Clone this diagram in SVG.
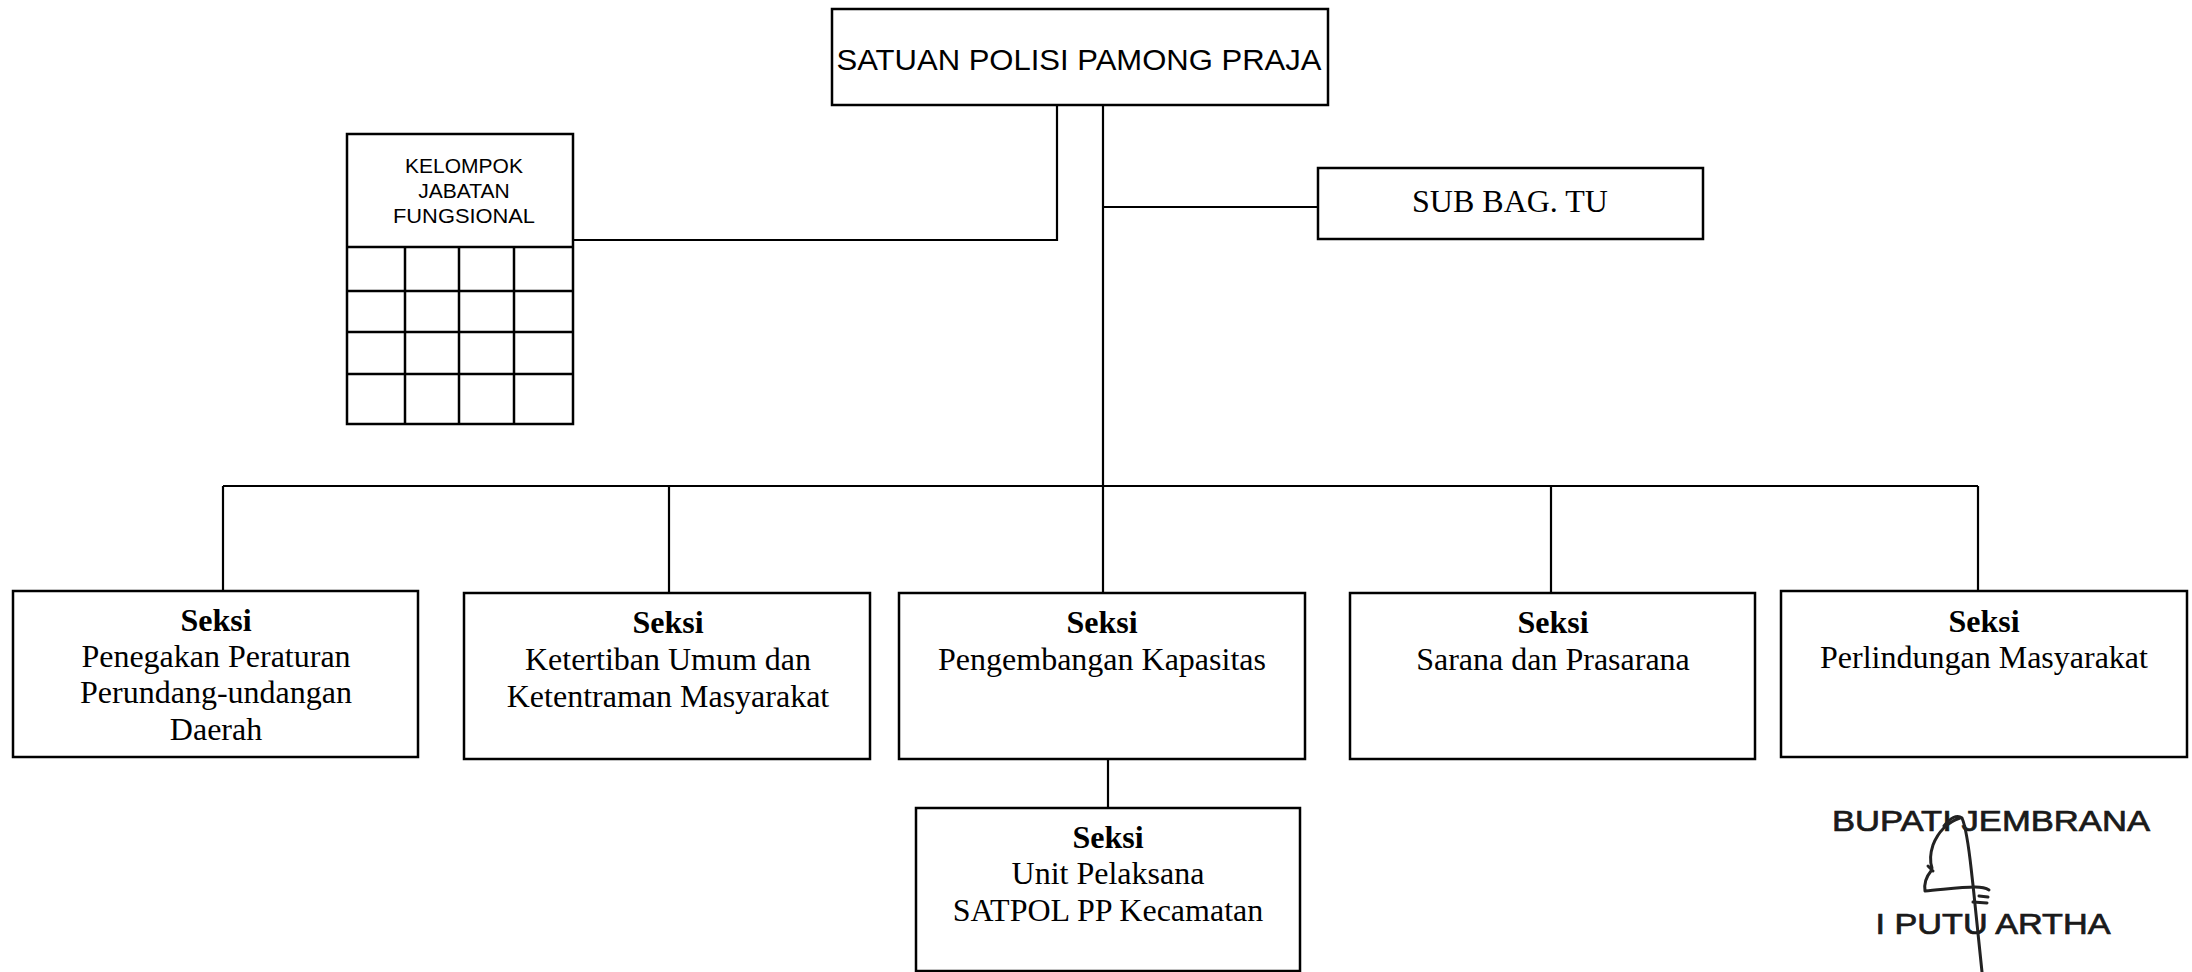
<svg xmlns="http://www.w3.org/2000/svg" width="2192" height="972" viewBox="0 0 2192 972">
<style>
  .box { fill: #ffffff; stroke: #000000; stroke-width: 2.5; }
  .grid { stroke: #000000; stroke-width: 2.5; fill: none; }
  .conn { stroke: #000000; stroke-width: 2.2; fill: none; }
  .sans { font-family: "Liberation Sans", Arial, sans-serif; fill: #000000; text-anchor: middle; }
  .serif { font-family: "Liberation Serif", "Times New Roman", serif; fill: #000000; text-anchor: middle; font-size: 32px; }
  .bold { font-weight: bold; }
  .sig { font-family: "Liberation Sans", Arial, sans-serif; fill: #1a1a1a; stroke: #1a1a1a; stroke-width: 0.7; text-anchor: middle; font-size: 29px; }
  .pen { fill: none; stroke: #222222; stroke-width: 3; stroke-linecap: round; stroke-linejoin: round; }
</style>
<rect width="2192" height="972" fill="#ffffff"/>

<g id="connectors">
  <polyline class="conn" points="1057,105 1057,240 573,240"/>
  <line class="conn" x1="1103" y1="105" x2="1103" y2="593"/>
  <line class="conn" x1="1103" y1="207" x2="1318" y2="207"/>
  <line class="conn" x1="223" y1="486" x2="1978" y2="486"/>
  <line class="conn" x1="223" y1="486" x2="223" y2="591"/>
  <line class="conn" x1="669" y1="486" x2="669" y2="593"/>
  <line class="conn" x1="1551" y1="486" x2="1551" y2="593"/>
  <line class="conn" x1="1978" y1="486" x2="1978" y2="591"/>
  <line class="conn" x1="1108" y1="759" x2="1108" y2="808"/>
</g>

<g id="node-satpol">
  <rect class="box" x="832" y="9" width="496" height="96"/>
  <text class="sans" x="1079" y="70" font-size="30" textLength="485" lengthAdjust="spacingAndGlyphs">SATUAN POLISI PAMONG PRAJA</text>
</g>

<g id="node-kelompok">
  <rect class="box" x="347" y="134" width="226" height="290"/>
  <line class="grid" x1="347" y1="247" x2="573" y2="247"/>
  <line class="grid" x1="347" y1="291" x2="573" y2="291"/>
  <line class="grid" x1="347" y1="332" x2="573" y2="332"/>
  <line class="grid" x1="347" y1="374" x2="573" y2="374"/>
  <line class="grid" x1="405" y1="247" x2="405" y2="424"/>
  <line class="grid" x1="459" y1="247" x2="459" y2="424"/>
  <line class="grid" x1="514" y1="247" x2="514" y2="424"/>
  <text class="sans" x="464" y="173" font-size="21">KELOMPOK</text>
  <text class="sans" x="464" y="198" font-size="21">JABATAN</text>
  <text class="sans" x="464" y="223" font-size="21" textLength="142" lengthAdjust="spacingAndGlyphs">FUNGSIONAL</text>
</g>

<g id="node-subbag">
  <rect class="box" x="1318" y="168" width="385" height="71"/>
  <text class="serif" x="1510" y="212">SUB BAG. TU</text>
</g>

<g id="node-seksi-penegakan">
  <rect class="box" x="13" y="591" width="405" height="166"/>
  <text class="serif bold" x="216" y="631">Seksi</text>
  <text class="serif" x="216" y="667">Penegakan Peraturan</text>
  <text class="serif" x="216" y="703">Perundang-undangan</text>
  <text class="serif" x="216" y="740">Daerah</text>
</g>

<g id="node-seksi-ketertiban">
  <rect class="box" x="464" y="593" width="406" height="166"/>
  <text class="serif bold" x="668" y="633">Seksi</text>
  <text class="serif" x="668" y="670">Ketertiban Umum dan</text>
  <text class="serif" x="668" y="707">Ketentraman Masyarakat</text>
</g>

<g id="node-seksi-pengembangan">
  <rect class="box" x="899" y="593" width="406" height="166"/>
  <text class="serif bold" x="1102" y="633">Seksi</text>
  <text class="serif" x="1102" y="670">Pengembangan Kapasitas</text>
</g>

<g id="node-seksi-sarana">
  <rect class="box" x="1350" y="593" width="405" height="166"/>
  <text class="serif bold" x="1553" y="633">Seksi</text>
  <text class="serif" x="1553" y="670">Sarana dan Prasarana</text>
</g>

<g id="node-seksi-perlindungan">
  <rect class="box" x="1781" y="591" width="406" height="166"/>
  <text class="serif bold" x="1984" y="632">Seksi</text>
  <text class="serif" x="1984" y="668">Perlindungan Masyarakat</text>
</g>

<g id="node-seksi-unit">
  <rect class="box" x="916" y="808" width="384" height="163"/>
  <text class="serif bold" x="1108" y="848">Seksi</text>
  <text class="serif" x="1108" y="884">Unit Pelaksana</text>
  <text class="serif" x="1108" y="921">SATPOL PP Kecamatan</text>
</g>

<g id="signature">
  <text class="sig" x="1991" y="831" textLength="318" lengthAdjust="spacingAndGlyphs">BUPATI JEMBRANA</text>
  <text class="sig" x="1993" y="934" textLength="235" lengthAdjust="spacingAndGlyphs">I PUTU ARTHA</text>
  <path class="pen" d="M1944,826 C1950,818 1957,814 1962,818 C1968,832 1970,860 1973,885 C1976,915 1979,945 1982,972"/>
  <path class="pen" d="M1960,818 C1948,822 1938,832 1933,845 C1930,854 1930,862 1932,868 M1928,866 L1933,871 M1931,871 C1926,877 1924,884 1925,891 C1940,890 1960,887 1975,887 C1982,887 1986,888 1989,890 M1979,896 L1988,897 M1973,902 L1987,903"/>
</g>
</svg>
